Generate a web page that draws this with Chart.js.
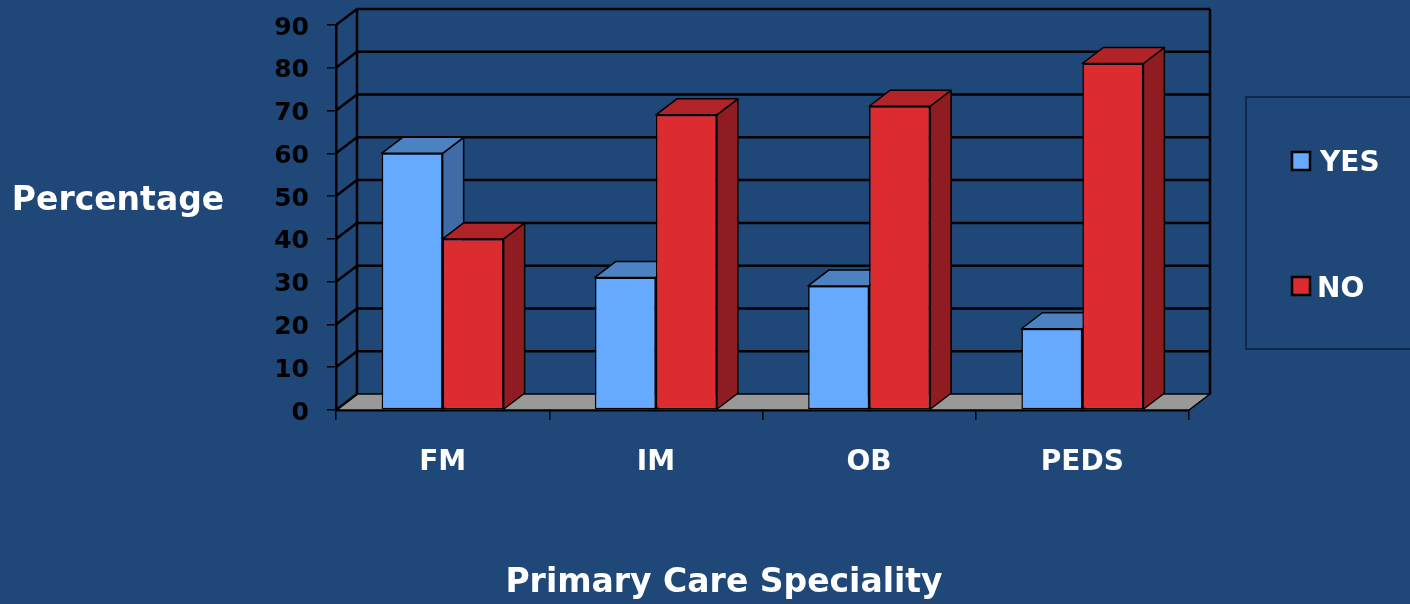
<!DOCTYPE html>
<html>
<head>
<meta charset="utf-8">
<script src="https://cdn.jsdelivr.net/npm/chart.js@4"></script>
<style>
  html, body { margin: 0; padding: 0; background: #1f4778; overflow: hidden; }
  canvas { display: block; }
</style>
</head>
<body>
<canvas id="chart" width="1410" height="604"></canvas>
<script>
const specialties = ['FM', 'IM', 'OB', 'PEDS'];
const yesValues = [60, 31, 29, 19];
const noValues = [40, 69, 71, 81];
const yTicks = [0, 10, 20, 30, 40, 50, 60, 70, 80, 90];

const FONT = '"DejaVu Sans", sans-serif';
const DEPTH_X = 21;
const DEPTH_Y = -16;
const INK = '#000000';

// flat colours for the three visible faces of each bar
const faces = {
    YES: { front: '#66aaff', top: '#4d82c2', side: '#3f6ca6' },
    NO: { front: '#dd2c30', top: '#b02428', side: '#8e1c20' }
};

function poly(ctx, points, fill, stroke, width) {
    ctx.beginPath();
    points.forEach((p, i) => (i ? ctx.lineTo(p[0], p[1]) : ctx.moveTo(p[0], p[1])));
    ctx.closePath();
    if (fill) { ctx.fillStyle = fill; ctx.fill(); }
    if (stroke) { ctx.strokeStyle = stroke; ctx.lineWidth = width; ctx.stroke(); }
}

function line(ctx, x1, y1, x2, y2, width) {
    ctx.beginPath();
    ctx.moveTo(x1, y1);
    ctx.lineTo(x2, y2);
    ctx.strokeStyle = INK;
    ctx.lineWidth = width;
    ctx.stroke();
}

function drawRoom(chart) {
    const { ctx, chartArea: a, scales: { y } } = chart;
    ctx.save();
    poly(ctx, [
        [a.left, a.bottom],
        [a.left + DEPTH_X, a.bottom + DEPTH_Y],
        [a.right + DEPTH_X, a.bottom + DEPTH_Y],
        [a.right, a.bottom]
    ], '#999999', INK, 1.5);
    yTicks.forEach(v => {
        const py = y.getPixelForValue(v);
        line(ctx, a.left, py, a.left + DEPTH_X, py + DEPTH_Y, 2.5);
        if (v > 0) line(ctx, a.left + DEPTH_X, py + DEPTH_Y, a.right + DEPTH_X, py + DEPTH_Y, 2.5);
    });
    const topY = y.getPixelForValue(90) + DEPTH_Y;
    const floorY = a.bottom + DEPTH_Y;
    line(ctx, a.left + DEPTH_X, topY, a.left + DEPTH_X, floorY, 2.5);
    line(ctx, a.right + DEPTH_X, topY, a.right + DEPTH_X, floorY, 2.5);
    ctx.restore();
}

function drawExtrusion(chart, setIndex) {
    const { ctx } = chart;
    const meta = chart.getDatasetMeta(setIndex);
    const c = faces[chart.data.datasets[setIndex].label];
    ctx.save();
    ctx.lineJoin = 'round';
    meta.data.forEach(bar => {
        const { x, y, width, base } = bar.getProps(['x', 'y', 'width', 'base'], true);
        const l = x - width / 2;
        const r = x + width / 2;
        poly(ctx, [[r, y], [r + DEPTH_X, y + DEPTH_Y], [r + DEPTH_X, base + DEPTH_Y], [r, base]], c.side, INK, 1.5);
        poly(ctx, [[l, y], [l + DEPTH_X, y + DEPTH_Y], [r + DEPTH_X, y + DEPTH_Y], [r, y]], c.top, INK, 1.5);
    });
    ctx.restore();
}

// series paint left to right so NO overlaps the side of YES
const depthPlugin = {
    id: 'depth',
    beforeDatasetsDraw(chart) {
        drawRoom(chart);
        chart.data.datasets.forEach((set, i) => {
            drawExtrusion(chart, i);
            chart.getDatasetMeta(i).controller.draw();
        });
        return false;
    }
};

// axis titles and the legend panel
const labelsPlugin = {
    id: 'labels',
    afterDraw(chart) {
        const { ctx } = chart;
        ctx.save();
        ctx.fillStyle = '#ffffff';
        ctx.textBaseline = 'middle';
        ctx.textAlign = 'center';
        ctx.font = 'bold 33px ' + FONT;
        ctx.fillText('Percentage', 118, 201);
        ctx.fillText('Primary Care Speciality', 724, 583);

        ctx.strokeStyle = '#10294a';
        ctx.lineWidth = 2;
        ctx.strokeRect(1246, 97, 170, 252);

        ctx.textAlign = 'left';
        ctx.font = 'bold 28px ' + FONT;
        [[1292, 152, 1320, 164], [1292, 277, 1317, 290]].forEach((pos, i) => {
            const set = chart.data.datasets[i];
            ctx.fillStyle = faces[set.label].front;
            ctx.strokeStyle = INK;
            ctx.lineWidth = 2.5;
            ctx.fillRect(pos[0], pos[1], 18, 18);
            ctx.strokeRect(pos[0], pos[1], 18, 18);
            ctx.fillStyle = '#ffffff';
            ctx.fillText(set.label, pos[2], pos[3]);
        });
        ctx.restore();
    }
};

new Chart(document.getElementById('chart'), {
    type: 'bar',
    data: {
        labels: specialties,
        datasets: [
            { label: 'YES', data: yesValues, backgroundColor: faces.YES.front },
            { label: 'NO', data: noValues, backgroundColor: faces.NO.front }
        ]
    },
    options: {
        responsive: false,
        animation: false,
        layout: { padding: { top: 25, right: 221, bottom: 0, left: 0 } },
        datasets: {
            bar: {
                barPercentage: 1,
                categoryPercentage: 0.572,
                borderColor: INK,
                borderWidth: 1.5,
                borderSkipped: false
            }
        },
        plugins: { legend: { display: false }, title: { display: false }, tooltip: { enabled: false } },
        scales: {
            x: {
                afterFit: s => { s.height = 194; },
                border: { color: INK, width: 2.5 },
                grid: { offset: true, drawOnChartArea: false, color: INK, lineWidth: 1.5, tickLength: 10 },
                ticks: {
                    color: '#ffffff',
                    padding: 26,
                    maxRotation: 0,
                    font: { family: FONT, size: 28, weight: 'bold' }
                }
            },
            y: {
                min: 0,
                max: 90,
                afterFit: s => {
                    s.width = 336;
                    s.paddingTop = 0;
                    s.paddingBottom = 0;
                },
                afterBuildTicks: s => { s.ticks = yTicks.map(value => ({ value })); },
                border: { color: INK, width: 2.5 },
                grid: { drawOnChartArea: false, color: INK, lineWidth: 1.5, tickLength: 9 },
                ticks: {
                    color: INK,
                    padding: 18,
                    labelOffset: 3,
                    font: { family: FONT, size: 25, weight: 'bold' }
                }
            }
        }
    },
    plugins: [depthPlugin, labelsPlugin]
});
</script>
</body>
</html>
